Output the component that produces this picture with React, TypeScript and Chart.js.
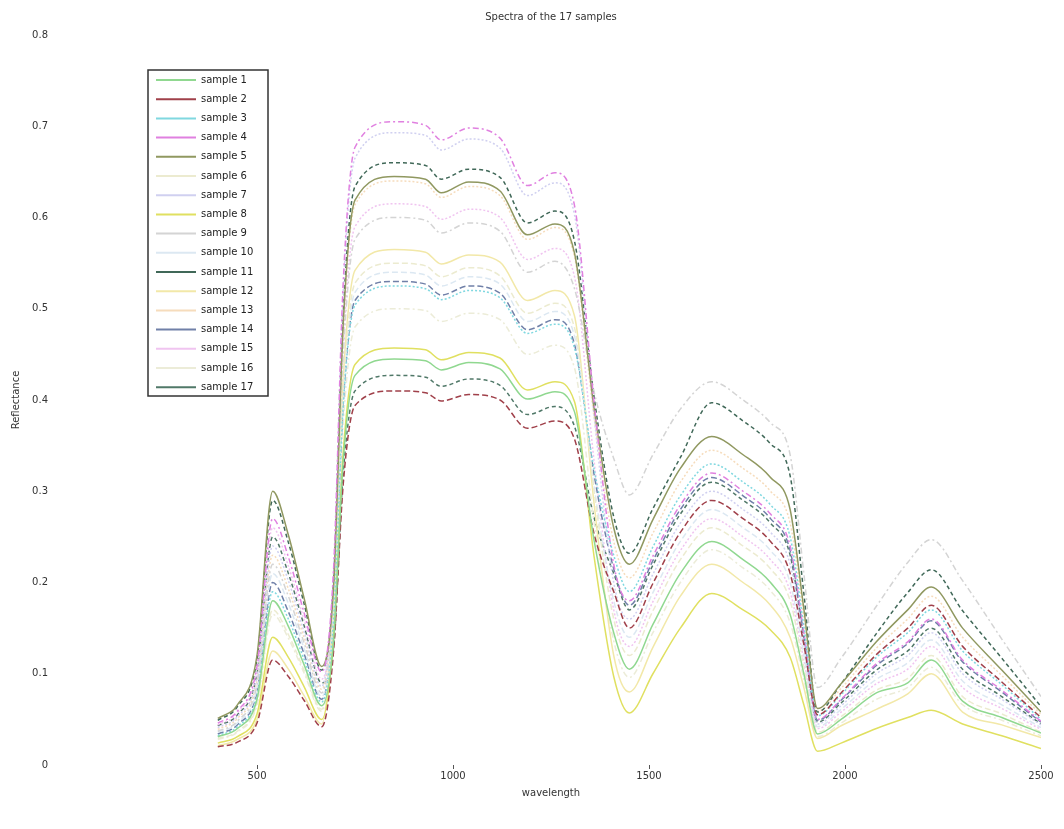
import React, { useEffect, useRef } from "react";
import { Chart, registerables } from "chart.js";

Chart.register(...registerables);

const TITLE = "Spectra of the 17 samples";
const X_LABEL = "wavelength";
const Y_LABEL = "Reflectance";

const WAVELENGTHS = [400, 450, 500, 540, 580, 620, 665, 695, 720, 750, 850, 930, 970, 1040, 1120, 1190, 1260, 1310, 1360, 1410, 1450, 1510, 1580, 1660, 1740, 1810, 1860, 1895, 1930, 1990, 2080, 2160, 2220, 2300, 2400, 2500];

const X_TICKS = [500, 1000, 1500, 2000, 2500];
const Y_TICKS = [0, 0.1, 0.2, 0.3, 0.4, 0.5, 0.6, 0.7, 0.8];

const SAMPLE_NAMES = ["sample 1", "sample 2", "sample 3", "sample 4", "sample 5", "sample 6", "sample 7", "sample 8", "sample 9", "sample 10", "sample 11", "sample 12", "sample 13", "sample 14", "sample 15", "sample 16", "sample 17"];

const S1 = [0.031, 0.040, 0.072, 0.18, 0.152, 0.11, 0.065, 0.134, 0.334, 0.427, 0.445, 0.443, 0.433, 0.441, 0.434, 0.401, 0.409, 0.387, 0.246, 0.145, 0.105, 0.154, 0.21, 0.245, 0.225, 0.2, 0.165, 0.10, 0.034, 0.05, 0.079, 0.09, 0.115, 0.07, 0.052, 0.035];
const S2 = [0.020, 0.025, 0.046, 0.115, 0.097, 0.071, 0.042, 0.123, 0.308, 0.394, 0.41, 0.408, 0.399, 0.406, 0.40, 0.369, 0.377, 0.357, 0.253, 0.19, 0.15, 0.199, 0.255, 0.29, 0.27, 0.245, 0.21, 0.132, 0.055, 0.079, 0.121, 0.15, 0.175, 0.13, 0.091, 0.052];
const S3 = [0.032, 0.042, 0.076, 0.19, 0.16, 0.116, 0.069, 0.158, 0.394, 0.504, 0.525, 0.522, 0.51, 0.52, 0.512, 0.473, 0.483, 0.457, 0.324, 0.23, 0.19, 0.239, 0.295, 0.33, 0.31, 0.285, 0.25, 0.152, 0.054, 0.077, 0.118, 0.145, 0.17, 0.125, 0.088, 0.05];
const S4 = [0.046, 0.059, 0.108, 0.27, 0.228, 0.167, 0.102, 0.212, 0.529, 0.677, 0.705, 0.701, 0.685, 0.698, 0.687, 0.635, 0.649, 0.613, 0.397, 0.22, 0.18, 0.229, 0.285, 0.32, 0.30, 0.275, 0.24, 0.145, 0.05, 0.072, 0.111, 0.135, 0.16, 0.115, 0.082, 0.048];
const S5 = [0.051, 0.066, 0.12, 0.30, 0.252, 0.183, 0.108, 0.194, 0.484, 0.619, 0.645, 0.642, 0.627, 0.639, 0.629, 0.581, 0.593, 0.561, 0.391, 0.26, 0.22, 0.269, 0.325, 0.36, 0.34, 0.315, 0.28, 0.171, 0.062, 0.089, 0.135, 0.17, 0.195, 0.15, 0.104, 0.058];
const S6 = [0.029, 0.037, 0.068, 0.17, 0.143, 0.104, 0.061, 0.165, 0.413, 0.528, 0.55, 0.547, 0.535, 0.545, 0.536, 0.495, 0.506, 0.479, 0.30, 0.16, 0.12, 0.169, 0.225, 0.26, 0.24, 0.215, 0.18, 0.108, 0.036, 0.053, 0.082, 0.095, 0.12, 0.075, 0.056, 0.036];
const S7 = [0.041, 0.053, 0.096, 0.24, 0.202, 0.146, 0.086, 0.208, 0.52, 0.665, 0.693, 0.69, 0.674, 0.686, 0.676, 0.624, 0.638, 0.603, 0.382, 0.20, 0.16, 0.209, 0.265, 0.30, 0.28, 0.255, 0.22, 0.133, 0.045, 0.065, 0.10, 0.12, 0.145, 0.10, 0.072, 0.044];
const S8 = [0.024, 0.031, 0.056, 0.14, 0.118, 0.086, 0.05, 0.137, 0.343, 0.439, 0.457, 0.455, 0.444, 0.452, 0.446, 0.411, 0.42, 0.398, 0.228, 0.097, 0.057, 0.10, 0.15, 0.188, 0.17, 0.148, 0.118, 0.066, 0.015, 0.024, 0.04, 0.052, 0.06, 0.045, 0.032, 0.018];
const S9 = [0.037, 0.048, 0.088, 0.22, 0.185, 0.134, 0.079, 0.18, 0.45, 0.576, 0.60, 0.597, 0.583, 0.594, 0.585, 0.54, 0.552, 0.522, 0.409, 0.336, 0.296, 0.34, 0.39, 0.42, 0.40, 0.375, 0.34, 0.21, 0.085, 0.117, 0.174, 0.222, 0.247, 0.202, 0.138, 0.075];
const S10 = [0.036, 0.046, 0.084, 0.21, 0.177, 0.128, 0.075, 0.162, 0.405, 0.518, 0.54, 0.537, 0.525, 0.535, 0.527, 0.486, 0.497, 0.47, 0.305, 0.18, 0.14, 0.189, 0.245, 0.28, 0.26, 0.235, 0.20, 0.121, 0.042, 0.061, 0.094, 0.112, 0.137, 0.092, 0.066, 0.041];
const S11 = [0.049, 0.064, 0.116, 0.29, 0.244, 0.177, 0.104, 0.198, 0.495, 0.634, 0.66, 0.657, 0.642, 0.653, 0.644, 0.594, 0.607, 0.574, 0.403, 0.272, 0.232, 0.281, 0.337, 0.397, 0.377, 0.352, 0.317, 0.188, 0.058, 0.089, 0.144, 0.189, 0.214, 0.169, 0.117, 0.064];
const S12 = [0.021, 0.028, 0.05, 0.125, 0.105, 0.076, 0.045, 0.17, 0.424, 0.542, 0.565, 0.562, 0.549, 0.559, 0.551, 0.509, 0.52, 0.492, 0.286, 0.12, 0.08, 0.129, 0.185, 0.22, 0.20, 0.175, 0.14, 0.085, 0.029, 0.043, 0.061, 0.078, 0.10, 0.058, 0.044, 0.03];
const S13 = [0.039, 0.051, 0.092, 0.23, 0.193, 0.14, 0.083, 0.192, 0.48, 0.614, 0.64, 0.637, 0.622, 0.634, 0.624, 0.576, 0.589, 0.557, 0.381, 0.245, 0.205, 0.254, 0.31, 0.345, 0.325, 0.30, 0.265, 0.162, 0.059, 0.084, 0.128, 0.16, 0.185, 0.14, 0.098, 0.055];
const S14 = [0.034, 0.044, 0.08, 0.20, 0.168, 0.122, 0.072, 0.159, 0.398, 0.509, 0.53, 0.527, 0.515, 0.525, 0.517, 0.477, 0.488, 0.461, 0.318, 0.215, 0.175, 0.224, 0.28, 0.315, 0.295, 0.27, 0.235, 0.142, 0.049, 0.071, 0.109, 0.133, 0.158, 0.113, 0.08, 0.047];
const S15 = [0.044, 0.057, 0.104, 0.26, 0.218, 0.159, 0.094, 0.185, 0.461, 0.59, 0.615, 0.612, 0.598, 0.609, 0.60, 0.554, 0.566, 0.535, 0.333, 0.17, 0.13, 0.179, 0.235, 0.27, 0.25, 0.225, 0.19, 0.115, 0.04, 0.058, 0.089, 0.105, 0.13, 0.085, 0.062, 0.039];
const S16 = [0.028, 0.036, 0.066, 0.165, 0.139, 0.101, 0.059, 0.15, 0.375, 0.48, 0.50, 0.498, 0.486, 0.495, 0.488, 0.45, 0.46, 0.435, 0.266, 0.136, 0.096, 0.145, 0.20, 0.236, 0.216, 0.191, 0.156, 0.094, 0.031, 0.046, 0.072, 0.085, 0.107, 0.066, 0.049, 0.032];
const S17 = [0.043, 0.055, 0.10, 0.25, 0.21, 0.153, 0.09, 0.128, 0.32, 0.41, 0.427, 0.425, 0.415, 0.423, 0.416, 0.384, 0.393, 0.371, 0.271, 0.21, 0.17, 0.219, 0.275, 0.31, 0.29, 0.265, 0.23, 0.139, 0.047, 0.068, 0.104, 0.125, 0.15, 0.105, 0.075, 0.045];

const SAMPLE_VALUES = [S1, S2, S3, S4, S5, S6, S7, S8, S9, S10, S11, S12, S13, S14, S15, S16, S17];

const COLORS = ["#90d890", "#a0404a", "#80d8e0", "#e080e0", "#909860", "#ecebd0", "#d0d0f0", "#e0e060", "#d4d4d4", "#dce8f2", "#406858", "#f2e8a8", "#f6dcbc", "#7080a8", "#f0c4f0", "#ececd8", "#507868"];
const DASHES = [[], [6, 3], [2, 2], [6, 3, 2, 3], [], [6, 3], [2, 2], [], [6, 3, 2, 3], [6, 3], [4, 3], [], [2, 2], [6, 3], [2, 2], [6, 3, 2, 3], [4, 3]];

const FONT = "'DejaVu Sans', sans-serif";

const titleAndLegend = {
  id: "titleAndLegend",
  afterDraw(chart: any) {
    const ctx = chart.ctx;
    const area = chart.chartArea;
    ctx.save();
    ctx.font = "10px " + FONT;
    ctx.fillStyle = "#333333";
    ctx.textAlign = "center";
    ctx.textBaseline = "middle";
    ctx.fillText(TITLE, (area.left + area.right) / 2, 17);

    const x0 = 148, y0 = 70, w = 120, h = 326;
    ctx.fillStyle = "#ffffff";
    ctx.fillRect(x0, y0, w, h);
    ctx.strokeStyle = "#333333";
    ctx.lineWidth = 1.5;
    ctx.strokeRect(x0, y0, w, h);
    ctx.textAlign = "left";
    const step = 19.2;
    chart.data.datasets.forEach((ds: any, i: number) => {
      const y = y0 + 10 + i * step;
      ctx.strokeStyle = ds.borderColor;
      ctx.lineWidth = 2;
      ctx.setLineDash([]);
      ctx.beginPath();
      ctx.moveTo(x0 + 8, y);
      ctx.lineTo(x0 + 48, y);
      ctx.stroke();
      ctx.fillStyle = "#222222";
      ctx.fillText(ds.label, x0 + 53, y);
    });
    ctx.restore();
  },
};

export default function App() {
  const canvasRef = useRef<HTMLCanvasElement | null>(null);

  useEffect(() => {
    const canvas = canvasRef.current;
    if (!canvas) return;
    const datasets = SAMPLE_VALUES.map((vals, i) => ({
      label: SAMPLE_NAMES[i],
      data: vals.map((v, j) => ({ x: WAVELENGTHS[j], y: v })),
      borderColor: COLORS[i],
      backgroundColor: COLORS[i],
      borderDash: DASHES[i],
      borderWidth: 1.5,
      pointRadius: 0,
      cubicInterpolationMode: "monotone" as const,
      fill: false,
    }));
    const chart = new Chart(canvas, {
      type: "line",
      data: { datasets },
      plugins: [titleAndLegend],
      options: {
        animation: false,
        responsive: false,
        maintainAspectRatio: false,
        layout: { padding: { left: 0, right: 23, top: 35, bottom: 30 } },
        plugins: {
          legend: { display: false },
          tooltip: { enabled: false },
          title: { display: false },
        },
        scales: {
          x: {
            type: "linear",
            min: 0,
            max: 2500,
            afterBuildTicks: (scale: any) => {
              scale.ticks = X_TICKS.map((v) => ({ value: v }));
            },
            afterFit: (scale: any) => {
              scale.height = 34;
            },
            grid: { display: true, drawOnChartArea: false, drawTicks: true, tickLength: 4, color: "#555555" },
            border: { display: false },
            ticks: {
              color: "#333333",
              font: { family: FONT, size: 10 },
              padding: 1,
              maxRotation: 0,
              callback: (v: any) => String(v),
            },
            title: { display: true, text: X_LABEL, color: "#333333", font: { family: FONT, size: 10 }, padding: { top: 2, bottom: 0 } },
          },
          y: {
            type: "linear",
            min: 0,
            max: 0.8,
            afterBuildTicks: (scale: any) => {
              scale.ticks = Y_TICKS.map((v) => ({ value: v }));
            },
            afterFit: (scale: any) => {
              scale.width = 61;
            },
            grid: { display: false },
            border: { display: false },
            ticks: {
              color: "#333333",
              font: { family: FONT, size: 10 },
              padding: 5,
              callback: (v: any) => String(Math.round(Number(v) * 10) / 10),
            },
            title: { display: true, text: Y_LABEL, color: "#333333", font: { family: FONT, size: 10 }, padding: { top: 10, bottom: 0 } },
          },
        },
      },
    });
    return () => chart.destroy();
  }, []);

  return (
    <div style={{ position: "absolute", left: 0, top: 0, width: 1064, height: 829, background: "#ffffff" }}>
      <canvas ref={canvasRef} width={1064} height={829} style={{ display: "block", width: 1064, height: 829 }} />
    </div>
  );
}
